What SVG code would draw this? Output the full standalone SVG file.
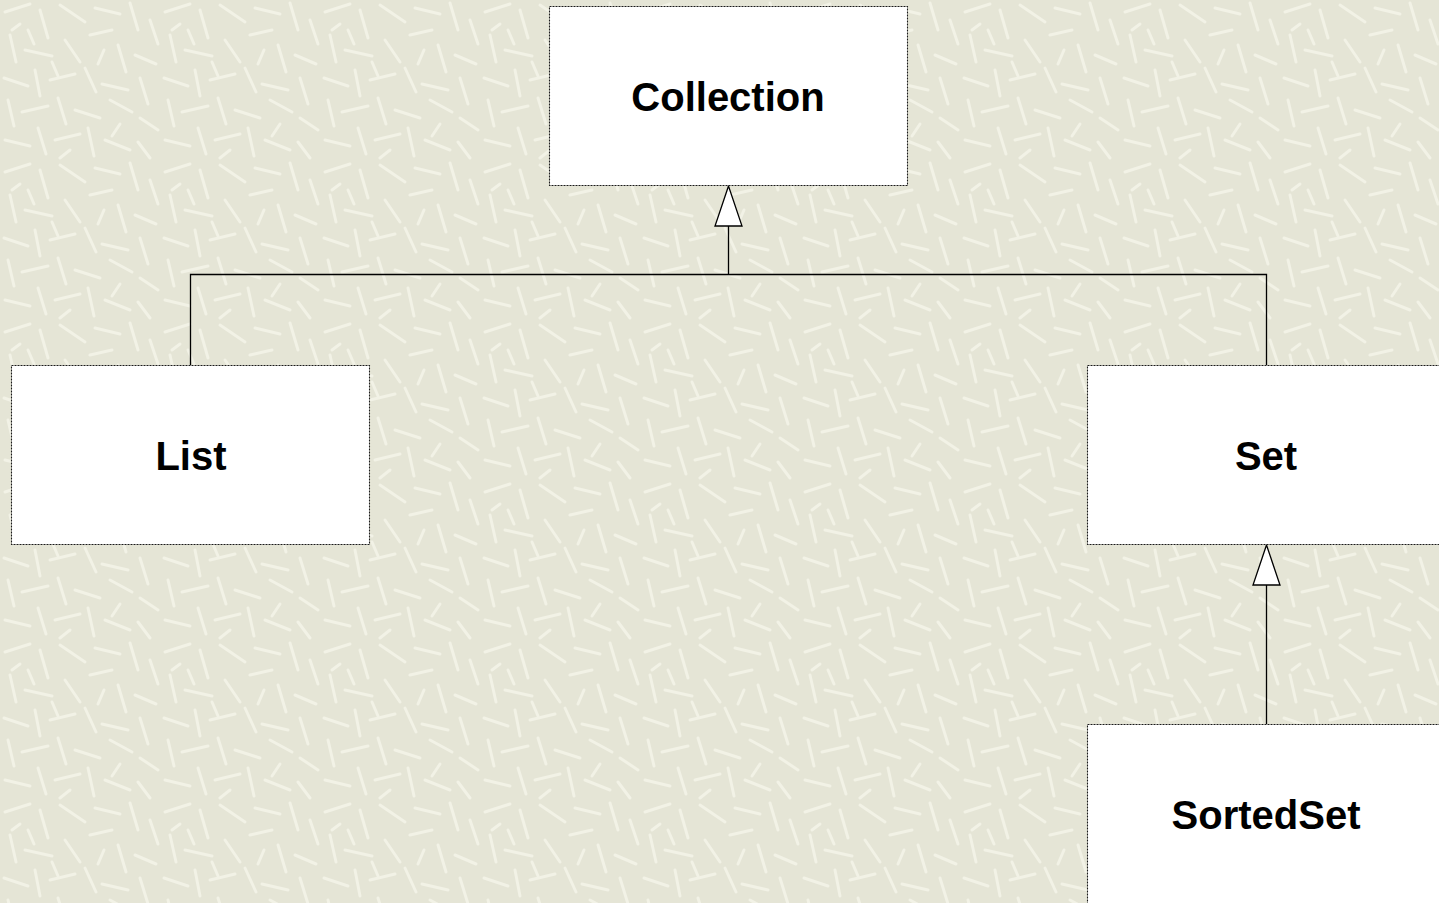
<svg xmlns="http://www.w3.org/2000/svg" width="1439" height="903" viewBox="0 0 1439 903">
<style>
.box{fill:#ffffff;stroke:#1a1a1a;stroke-width:1.1;stroke-dasharray:2 1}
.lbl{font-family:"Liberation Sans",Arial,sans-serif;font-weight:bold;font-size:40px;fill:#000;text-anchor:middle}
.conn{fill:none;stroke:#000;stroke-width:1.3}
.tri{fill:#ffffff;stroke:#000;stroke-width:1.3}
.tx line{stroke:#f2f2e6;stroke-width:3;stroke-linecap:round}
</style>
<defs>
<pattern id="paper" width="160" height="160" patternUnits="userSpaceOnUse">
<rect width="160" height="160" fill="#e5e5d6"/>
<g class="tx">
<line x1="5" y1="12" x2="30" y2="4"/>
<line x1="40" y1="10" x2="48" y2="38"/>
<line x1="60" y1="5" x2="85" y2="22"/>
<line x1="95" y1="8" x2="120" y2="14"/>
<line x1="130" y1="3" x2="138" y2="30"/>
<line x1="150" y1="20" x2="158" y2="44"/>
<line x1="10" y1="35" x2="16" y2="62"/>
<line x1="25" y1="50" x2="52" y2="56"/>
<line x1="65" y1="40" x2="80" y2="62"/>
<line x1="90" y1="35" x2="112" y2="30"/>
<line x1="118" y1="45" x2="126" y2="72"/>
<line x1="135" y1="55" x2="156" y2="64"/>
<line x1="4" y1="78" x2="28" y2="86"/>
<line x1="35" y1="70" x2="40" y2="96"/>
<line x1="50" y1="80" x2="75" y2="74"/>
<line x1="85" y1="68" x2="96" y2="92"/>
<line x1="102" y1="84" x2="128" y2="90"/>
<line x1="140" y1="78" x2="148" y2="104"/>
<line x1="8" y1="100" x2="14" y2="126"/>
<line x1="22" y1="112" x2="48" y2="106"/>
<line x1="58" y1="98" x2="66" y2="124"/>
<line x1="75" y1="110" x2="100" y2="118"/>
<line x1="110" y1="100" x2="132" y2="112"/>
<line x1="140" y1="118" x2="158" y2="130"/>
<line x1="5" y1="140" x2="30" y2="146"/>
<line x1="38" y1="128" x2="46" y2="154"/>
<line x1="55" y1="140" x2="80" y2="134"/>
<line x1="88" y1="128" x2="94" y2="156"/>
<line x1="105" y1="140" x2="130" y2="150"/>
<line x1="138" y1="142" x2="150" y2="158"/>
<line x1="70" y1="150" x2="60" y2="158"/>
<line x1="20" y1="24" x2="12" y2="30"/>
<line x1="28" y1="30" x2="34" y2="44"/>
<line x1="104" y1="50" x2="98" y2="64"/>
<line x1="120" y1="124" x2="112" y2="136"/>
<line x1="52" y1="62" x2="58" y2="76"/>
</g>
</pattern>
</defs>
<rect width="1439" height="903" fill="url(#paper)"/>
<g id="connectors">
<polyline class="conn" points="190.5,365 190.5,274.5 1266.5,274.5 1266.5,365"/>
<line class="conn" x1="728.5" y1="274.5" x2="728.5" y2="226"/>
<polygon class="tri" points="728.5,186 715,226 742,226"/>
<line class="conn" x1="1266.5" y1="724" x2="1266.5" y2="585"/>
<polygon class="tri" points="1266.5,545 1253,585 1280,585"/>
</g>
<g id="node-collection">
<rect class="box" x="549.5" y="6.5" width="358" height="179"/>
<text class="lbl" x="728" y="111">Collection</text>
</g>
<g id="node-list">
<rect class="box" x="11.5" y="365.5" width="358" height="179"/>
<text class="lbl" x="191" y="470">List</text>
</g>
<g id="node-set">
<rect class="box" x="1087.5" y="365.5" width="358" height="179"/>
<text class="lbl" x="1266" y="470">Set</text>
</g>
<g id="node-sortedset">
<rect class="box" x="1087.5" y="724.5" width="358" height="179"/>
<text class="lbl" x="1266" y="829">SortedSet</text>
</g>
</svg>
